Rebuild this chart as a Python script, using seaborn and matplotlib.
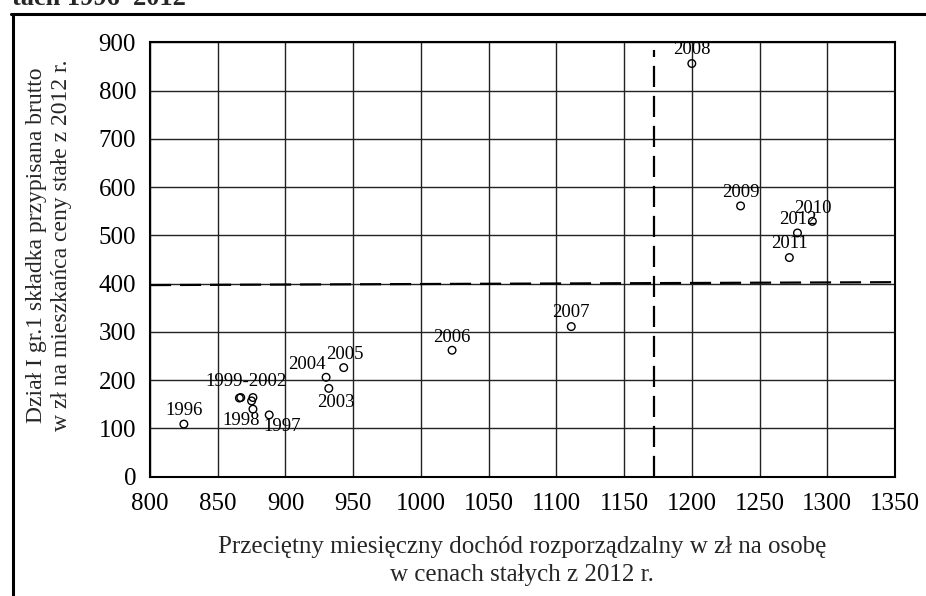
import matplotlib
matplotlib.use("Agg")
import matplotlib.pyplot as plt
import seaborn as sns
import pandas as pd
from matplotlib.lines import Line2D

# ---- data ----
years = ["1996", "1997", "1998", "1999", "2000", "2001", "2002", "2003", "2004",
         "2005", "2006", "2007", "2008", "2009", "2010", "2011", "2012"]
income = [825, 888, 876, 866, 867, 875, 876, 932, 930,
          943, 1023, 1111, 1200, 1236, 1289, 1272, 1278]
premium = [109, 128, 140, 163, 164, 157, 164, 183, 206,
           226, 262, 311, 856, 561, 529, 454, 505]
labels = ["1996", "1997", "1998", "1999-2002", "", "", "", "2003", "2004",
          "2005", "2006", "2007", "2008", "2009", "2010", "2011", "2012"]
mean_income = [1172, 1172]
mean_income_y = [0, 884]
mean_premium_x = [800, 1350]
mean_premium = [397, 403]

x_ticks = list(range(800, 1351, 50))
y_ticks = list(range(0, 901, 100))

# label offsets in pixels (layout only)
offsets = [(0, 14), (13, -12), (-12, -11), (7, 17), (0, 0), (0, 0), (0, 0),
           (7, -14), (-19, 13), (1, 13), (0, 13), (0, 14), (0, 14), (0, 13),
           (1, 13), (0, 14), (0, 13.5)]

df = pd.DataFrame({"year": years, "income": income, "premium": premium})

sns.set_style("white")
plt.rcParams["font.family"] = ["Liberation Serif", "DejaVu Serif"]

fig = plt.figure(figsize=(9.26, 5.96), dpi=100)
ax = fig.add_axes([150 / 926, 1 - 476.7 / 596, 745 / 926, 434.4 / 596])

sns.scatterplot(data=df, x="income", y="premium", ax=ax, marker="o", s=30,
                facecolors="none", edgecolor="black", linewidth=1.0, zorder=5)

for lab, xv, yv, (dx, dy) in zip(labels, income, premium, offsets):
    if lab:
        ax.annotate(lab, (xv, yv), xytext=(dx, dy), textcoords="offset pixels",
                    ha="center", va="center", fontsize=13.5, color="black", zorder=6)

ax.plot(mean_income, mean_income_y, color="black", lw=1.6,
        dashes=(9.5, 4), zorder=4)
ax.plot(mean_premium_x, mean_premium, color="black", lw=1.6,
        dashes=(9.5, 4), zorder=4)

ax.set_xlim(800, 1350)
ax.set_ylim(0, 900)
ax.set_xticks(x_ticks)
ax.set_yticks(y_ticks)
ax.grid(True, color="#222222", lw=1.0)
ax.set_axisbelow(True)
ax.tick_params(axis="both", length=0, labelsize=18, colors="black")
ax.tick_params(axis="x", pad=12)
ax.tick_params(axis="y", pad=10)
for sp in ax.spines.values():
    sp.set_visible(True)
    sp.set_color("black")
    sp.set_linewidth(1.5)
ax.set_xlabel("")
ax.set_ylabel("")

fig.text(522 / 926, 1 - 561 / 596,
         "Przeciętny miesięczny dochód rozporządzalny w zł na osobę\nw cenach stałych z 2012 r.",
         ha="center", va="center", fontsize=18, linespacing=1.3)
fig.text(49 / 926, 1 - 245 / 596,
         "Dział I gr.1 składka przypisana brutto\nw zł na mieszkańca ceny stałe z 2012 r.",
         ha="center", va="center", rotation=90, fontsize=17, linespacing=1.2)

# frame and cut-off header
fig.add_artist(Line2D([12.5 / 926, 12.5 / 926], [0, 1 - 14 / 596],
                      transform=fig.transFigure, color="black", lw=2.2))
fig.add_artist(Line2D([11.4 / 926, 1], [1 - 14 / 596, 1 - 14 / 596],
                      transform=fig.transFigure, color="black", lw=2.2))
fig.text(12 / 926, 1 - 5 / 596, "tach 1996–2012", ha="left", va="baseline",
         fontsize=19, fontweight="bold")

fig.savefig("out.png", dpi=100)
